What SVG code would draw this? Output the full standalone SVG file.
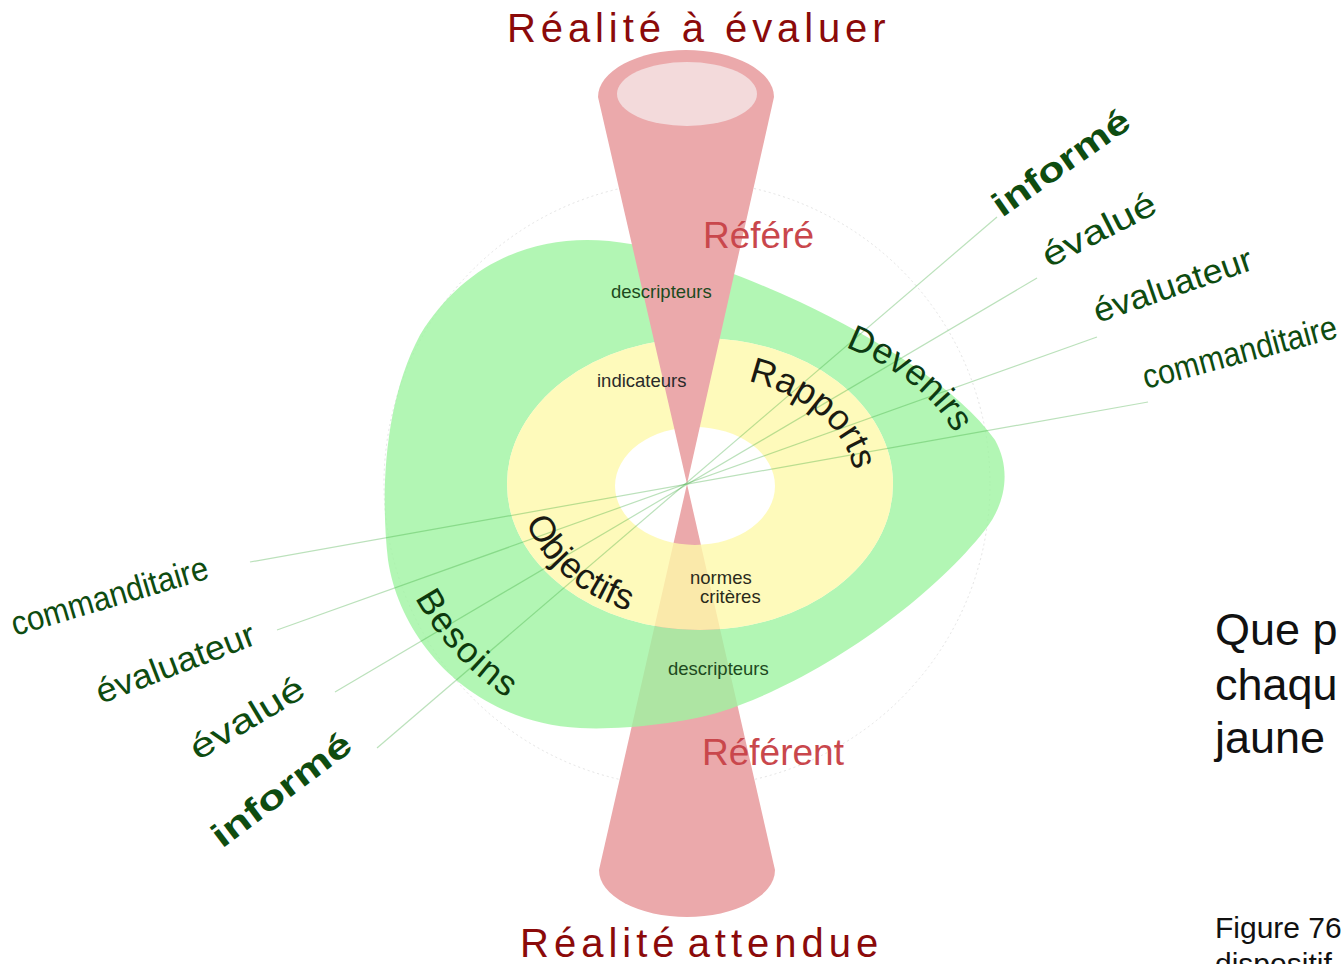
<svg xmlns="http://www.w3.org/2000/svg" width="1343" height="964" viewBox="0 0 1343 964">
<style>
text{font-family:"Liberation Sans",Arial,sans-serif}
.title{fill:#8b0a0a;font-size:40px}
.ref{fill:#c9474c;font-size:37px}
.small{font-size:18.5px}
.actor{fill:#0e4c10;font-size:34px}
.bold{font-weight:bold}
.ring{font-size:36px}
.ray{stroke:#3caa3c;stroke-opacity:0.35;stroke-width:1.2;fill:none}
.cone{fill:#eba9ab}
.side{fill:#111;font-size:45px}
</style>
<rect width="1343" height="964" fill="#fff"/>
<circle cx="687" cy="484" r="303" fill="none" stroke="#e4e4e4" stroke-width="1" stroke-dasharray="2 3"/>

<g id="cone-bottom">
<path class="cone" d="M687,484 L599,870 A88,47 0 0,0 775,870 Z"/>
</g>

<g id="ring-green">
<path fill="#9ff4a1" fill-opacity="0.8" fill-rule="evenodd" d="M587,240 C650,240 730,270 800,302 C880,340 960,390 995,440 C1012,470 1005,505 985,530 C930,600 820,680 720,712 C680,724 620,730 580,728 C470,722 400,640 388,560 C380,490 385,400 420,335 C460,270 520,240 587,240 Z M507,484 A193,146 0 1,0 893,484 A193,146 0 1,0 507,484 Z"/>
</g>
<g id="ring-yellow">
<path fill="#fef9aa" fill-opacity="0.8" fill-rule="evenodd" d="M507,484 A193,146 0 1,0 893,484 A193,146 0 1,0 507,484 Z M615,486 A80,59 0 1,0 775,486 A80,59 0 1,0 615,486 Z"/>
</g>

<g id="cone-top">
<path class="cone" d="M687,484 L598,97 A88,47 0 0,1 774,97 Z"/>
<ellipse cx="687" cy="94" rx="70" ry="32" fill="#f3dadb"/>
</g>

<g id="connectors">
<line class="ray" x1="377" y1="748" x2="997" y2="217"/>
<line class="ray" x1="335" y1="692" x2="1037" y2="278"/>
<line class="ray" x1="277" y1="630" x2="1097" y2="337"/>
<line class="ray" x1="250" y1="562" x2="1148" y2="402"/>
</g>

<defs>
<path id="p-rapports" d="M747.9,381.3 A155,108 0 0,1 852.6,502.8"/>
<path id="p-devenirs" d="M845,347 A268,162 0 0,1 964,458"/>
<path id="p-objectifs" d="M526,522 A181,138 0 0,0 669,620"/>
<path id="p-besoins" d="M415,598 A314,271 0 0,0 567,730"/>
</defs>

<g id="titles">
<text class="title" x="507" y="42" letter-spacing="4.9">Réalité à évaluer</text>
<text class="title" x="520" y="957" letter-spacing="5" word-spacing="-8">Réalité attendue</text>
</g>

<g id="referes">
<text class="ref" x="703" y="248">Référé</text>
<text class="ref" x="702" y="765">Référent</text>
</g>

<g id="inner-labels">
<text class="small" x="611" y="298" fill="#1d4a1d">descripteurs</text>
<text class="small" x="597" y="387" fill="#2a2a2a">indicateurs</text>
<text class="small" x="690" y="584" fill="#2a2a1a">normes</text>
<text class="small" x="700" y="603" fill="#2a2a1a">critères</text>
<text class="small" x="668" y="675" fill="#1d4a1d">descripteurs</text>
</g>

<g id="ring-labels">
<text class="ring" fill="#1a1a12"><textPath href="#p-rapports">Rapports</textPath></text>
<text class="ring" fill="#0d3a12" font-size="33"><textPath href="#p-devenirs">Devenirs</textPath></text>
<text class="ring" fill="#1a1a12" font-size="40"><textPath href="#p-objectifs">Objectifs</textPath></text>
<text class="ring" fill="#0d3a0d" font-size="42" letter-spacing="1.5"><textPath href="#p-besoins">Besoins</textPath></text>
</g>

<g id="actors-right">
<text class="actor bold" transform="translate(1002,218) rotate(-35)" textLength="160" lengthAdjust="spacingAndGlyphs">informé</text>
<text class="actor" transform="translate(1049,268) rotate(-27)" textLength="124" lengthAdjust="spacingAndGlyphs">évalué</text>
<text class="actor" transform="translate(1098,323) rotate(-19)" textLength="166" lengthAdjust="spacingAndGlyphs">évaluateur</text>
<text class="actor" font-size="30" transform="translate(1146,389) rotate(-15)" textLength="200" lengthAdjust="spacingAndGlyphs">commanditaire</text>
</g>
<g id="actors-left">
<text class="actor" font-size="30" transform="translate(15,636) rotate(-16.5)" textLength="204" lengthAdjust="spacingAndGlyphs">commanditaire</text>
<text class="actor" transform="translate(101,704) rotate(-21)" textLength="168" lengthAdjust="spacingAndGlyphs">évaluateur</text>
<text class="actor" transform="translate(198,761) rotate(-31)" textLength="128" lengthAdjust="spacingAndGlyphs">évalué</text>
<text class="actor bold" transform="translate(222,849) rotate(-37)" textLength="166" lengthAdjust="spacingAndGlyphs">informé</text>
</g>

<g id="side-text">
<text class="side" x="1215" y="645">Que p</text>
<text class="side" x="1215" y="700">chaqu</text>
<text class="side" x="1215" y="753">jaune</text>
<text x="1215" y="938" font-size="30" fill="#111">Figure 76</text>
<text x="1215" y="974" font-size="30" fill="#111">dispositif</text>
</g>
</svg>
